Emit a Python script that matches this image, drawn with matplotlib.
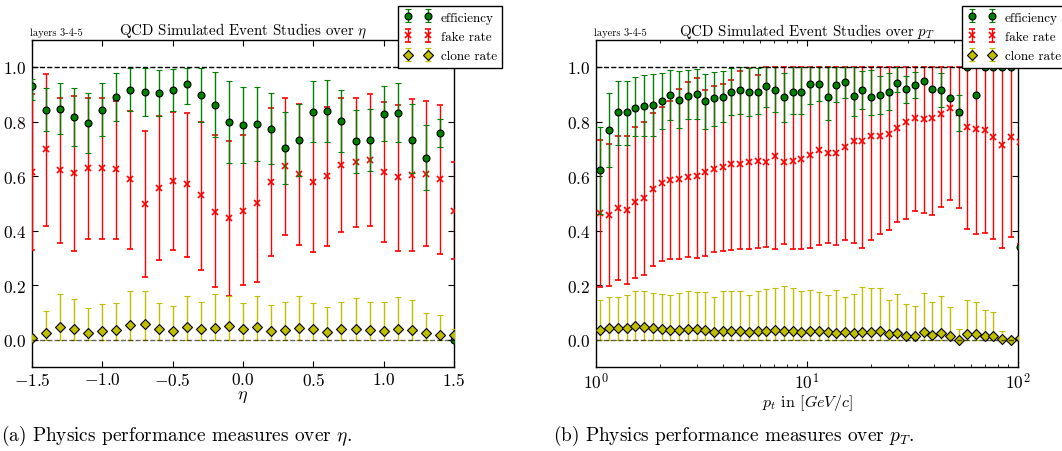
import numpy as np
import matplotlib
matplotlib.use("Agg")
import matplotlib.pyplot as plt

plt.rcParams.update({
    "font.family": "serif",
    "font.serif": ["cmr10"],
    "mathtext.fontset": "cm",
    "axes.formatter.use_mathtext": True,
    "axes.linewidth": 1.0,
})

# ---- eta binning ----
eta = [-1.5, -1.4, -1.3, -1.2, -1.1, -1.0, -0.9, -0.8, -0.7, -0.6, -0.5,
       -0.4, -0.3, -0.2, -0.1, 0.0, 0.1, 0.2, 0.3, 0.4, 0.5,
       0.6, 0.7, 0.8, 0.9, 1.0, 1.1, 1.2, 1.3, 1.4, 1.5]

eff_eta = [0.930, 0.843, 0.847, 0.816, 0.793, 0.844, 0.889, 0.916, 0.908, 0.905, 0.916,
           0.936, 0.897, 0.860, 0.799, 0.786, 0.792, 0.774, 0.702, 0.731, 0.836,
           0.840, 0.801, 0.728, 0.731, 0.829, 0.831, 0.734, 0.668, 0.759, 0.0]
eff_eta_hi = [0.956, 0.922, 0.942, 0.923, 0.903, 0.943, 0.978, 0.996, 0.996, 0.990, 0.994,
              0.997, 0.997, 0.980, 0.950, 0.925, 0.928, 0.903, 0.835, 0.865, 0.949,
              0.954, 0.916, 0.843, 0.846, 0.929, 0.940, 0.865, 0.788, 0.808, 0.0]
eff_eta_lo = [0.880, 0.765, 0.754, 0.712, 0.684, 0.748, 0.802, 0.838, 0.820, 0.819, 0.837,
              0.864, 0.798, 0.742, 0.649, 0.649, 0.655, 0.645, 0.571, 0.602, 0.725,
              0.725, 0.689, 0.613, 0.617, 0.729, 0.724, 0.610, 0.548, 0.707, 0.0]

fake_eta = [0.616, 0.700, 0.623, 0.611, 0.630, 0.630, 0.627, 0.588, 0.497, 0.555, 0.583,
            0.571, 0.531, 0.469, 0.445, 0.473, 0.501, 0.580, 0.636, 0.606, 0.577,
            0.600, 0.641, 0.651, 0.660, 0.616, 0.595, 0.605, 0.608, 0.589, 0.473]
fake_eta_hi = [0.900, 0.976, 0.887, 0.892, 0.888, 0.888, 0.877, 0.838, 0.764, 0.819, 0.836,
               0.832, 0.798, 0.750, 0.730, 0.750, 0.790, 0.849, 0.887, 0.865, 0.830,
               0.853, 0.888, 0.886, 0.900, 0.870, 0.862, 0.882, 0.875, 0.860, 0.652]
fake_eta_lo = [0.329, 0.416, 0.353, 0.326, 0.368, 0.371, 0.371, 0.333, 0.229, 0.292, 0.328,
               0.302, 0.257, 0.192, 0.160, 0.200, 0.210, 0.307, 0.385, 0.347, 0.320,
               0.344, 0.394, 0.415, 0.418, 0.357, 0.325, 0.325, 0.342, 0.315, 0.296]

clone_eta = [0.005, 0.025, 0.045, 0.039, 0.026, 0.033, 0.037, 0.053, 0.056, 0.038, 0.033,
             0.045, 0.038, 0.044, 0.050, 0.038, 0.045, 0.033, 0.034, 0.042, 0.038,
             0.028, 0.038, 0.040, 0.037, 0.033, 0.038, 0.037, 0.023, 0.018, 0.016]
clone_eta_hi = [0.020, 0.107, 0.169, 0.150, 0.115, 0.131, 0.136, 0.178, 0.177, 0.135, 0.123,
                0.162, 0.139, 0.168, 0.160, 0.133, 0.160, 0.129, 0.137, 0.160, 0.135,
                0.119, 0.139, 0.152, 0.139, 0.139, 0.155, 0.146, 0.099, 0.092, 0.038]
clone_eta_lo = [0.0] * len(eta)

# ---- pT binning: 10% wide logarithmic bins starting at 1 GeV/c ----
pt_edges = 1.1 ** np.arange(50)
pt = 0.5 * (pt_edges[:-1] + pt_edges[1:])

eff_pt = [0.622, 0.769, 0.835, 0.835, 0.849, 0.858, 0.859, 0.875, 0.898, 0.879,
          0.892, 0.902, 0.874, 0.886, 0.890, 0.908, 0.915, 0.908, 0.910, 0.929,
          0.916, 0.889, 0.908, 0.910, 0.936, 0.939, 0.891, 0.934, 0.945, 0.893,
          0.916, 0.891, 0.898, 0.909, 0.942, 0.919, 0.935, 0.947, 0.919, 0.914,
          0.887, 0.834, 1.000, 0.898, 1.000, 1.000, 1.000, 1.000, 0.340]
eff_pt_hi = [0.781, 0.904, 0.947, 0.950, 0.962, 0.971, 0.974, 0.979, 0.990, 0.984,
             0.988, 0.993, 0.975, 0.983, 0.984, 0.995, 0.999, 0.996, 0.998, 1.000,
             1.000, 0.979, 1.000, 1.000, 1.000, 1.000, 1.000, 1.000, 1.000, 1.000,
             0.987, 0.990, 0.966, 0.977, 1.000, 0.968, 0.980, 0.947, 0.919, 0.978,
             0.887, 0.897, 1.000, 0.898, 1.000, 1.000, 1.000, 1.000, 0.340]
eff_pt_lo = [0.460, 0.634, 0.713, 0.713, 0.748, 0.748, 0.748, 0.773, 0.807, 0.775,
             0.809, 0.809, 0.773, 0.785, 0.798, 0.823, 0.827, 0.820, 0.827, 0.853,
             0.835, 0.800, 0.826, 0.829, 0.865, 0.876, 0.804, 0.871, 0.888, 0.820,
             0.847, 0.824, 0.829, 0.843, 0.910, 0.868, 0.887, 0.947, 0.919, 0.852,
             0.887, 0.764, 1.000, 0.898, 1.000, 1.000, 1.000, 1.000, 0.340]

fake_pt = [0.463, 0.459, 0.483, 0.476, 0.504, 0.520, 0.553, 0.573, 0.584, 0.590,
           0.598, 0.602, 0.615, 0.627, 0.634, 0.643, 0.644, 0.651, 0.656, 0.653,
           0.673, 0.652, 0.657, 0.664, 0.678, 0.696, 0.686, 0.686, 0.705, 0.730,
           0.728, 0.747, 0.748, 0.754, 0.777, 0.797, 0.813, 0.809, 0.812, 0.829,
           0.850, 0.830, 0.780, 0.773, 0.769, 0.745, 0.714, 0.745, 0.725]
fake_pt_hi = [0.732, 0.719, 0.748, 0.748, 0.779, 0.800, 0.832, 0.852, 0.875, 0.919,
              0.944, 0.959, 0.917, 0.931, 0.938, 0.952, 0.987, 0.996, 0.970, 1.000,
              1.000, 1.000, 1.000, 1.000, 1.000, 1.000, 1.000, 1.000, 1.000, 1.000,
              1.000, 1.000, 1.000, 1.000, 1.000, 1.000, 1.000, 1.000, 1.000, 1.000,
              1.000, 1.000, 1.000, 1.000, 1.000, 1.000, 1.000, 1.000, 1.000]
fake_pt_lo = [0.194, 0.196, 0.220, 0.203, 0.227, 0.238, 0.269, 0.287, 0.296, 0.295,
              0.304, 0.298, 0.307, 0.320, 0.325, 0.329, 0.331, 0.331, 0.336, 0.339,
              0.331, 0.350, 0.331, 0.331, 0.336, 0.349, 0.356, 0.348, 0.365, 0.356,
              0.338, 0.364, 0.389, 0.402, 0.433, 0.443, 0.471, 0.463, 0.458, 0.485,
              0.513, 0.484, 0.406, 0.388, 0.392, 0.368, 0.336, 0.378, 0.351]

clone_pt = [0.037, 0.043, 0.044, 0.044, 0.049, 0.045, 0.043, 0.039, 0.036, 0.037,
            0.039, 0.039, 0.037, 0.028, 0.033, 0.033, 0.033, 0.029, 0.033, 0.033,
            0.034, 0.033, 0.033, 0.029, 0.031, 0.031, 0.029, 0.025, 0.027, 0.025,
            0.027, 0.029, 0.032, 0.021, 0.026, 0.015, 0.012, 0.027, 0.018, 0.026,
            0.014, 0.000, 0.022, 0.022, 0.014, 0.012, 0.002, 0.000, 0.005]
clone_pt_hi = [0.145, 0.156, 0.156, 0.163, 0.179, 0.180, 0.172, 0.168, 0.163, 0.172,
               0.177, 0.175, 0.174, 0.156, 0.177, 0.177, 0.177, 0.164, 0.178, 0.187,
               0.191, 0.196, 0.189, 0.177, 0.183, 0.175, 0.163, 0.183, 0.156, 0.166,
               0.193, 0.188, 0.188, 0.144, 0.169, 0.130, 0.123, 0.171, 0.137, 0.161,
               0.120, 0.040, 0.147, 0.137, 0.108, 0.100, 0.033, 0.000, 0.005]
clone_pt_lo = [0.0] * len(clone_pt)


def asym(val, lo, hi):
    v = np.asarray(val)
    return [v - np.asarray(lo), np.asarray(hi) - v]


def draw_panel(ax, x, eff, eff_lo, eff_hi, fake, fake_lo, fake_hi,
               clone, clone_lo, clone_hi, title):
    common = dict(capsize=2.2, elinewidth=1.0, capthick=1.0, linestyle="none")
    ax.errorbar(x, fake, yerr=asym(fake, fake_lo, fake_hi), fmt="x", color="r",
                ecolor="r", ms=4.5, mew=1.2, label="fake rate", zorder=3, **common)
    ax.errorbar(x, eff, yerr=asym(eff, eff_lo, eff_hi), fmt="o", color="g",
                mfc="g", mec="k", ecolor="g", ms=5.0, mew=0.8,
                label="efficiency", zorder=4, **common)
    ax.errorbar(x, clone, yerr=asym(clone, clone_lo, clone_hi), fmt="D", color="y",
                mfc="y", mec="k", ecolor="y", ms=5.0, mew=0.8,
                label="clone rate", zorder=4, **common)
    ax.axhline(1.0, color="k", ls="--", lw=1.0, zorder=5)
    ax.axhline(0.0, color="k", ls="--", lw=1.0, alpha=0.6, zorder=5)
    ax.set_ylim(-0.1, 1.1)
    ax.set_yticks([0.0, 0.2, 0.4, 0.6, 0.8, 1.0])
    ax.tick_params(which="both", direction="in", top=True, right=True,
                   labelsize=12.5, pad=4)
    ax.tick_params(axis="x", which="both", pad=3)
    ax.tick_params(which="major", length=4)
    ax.tick_params(which="minor", length=2)
    ax.set_title(title, fontsize=10.8, pad=3)
    ax.text(-0.005, 1.008, "layers 3-4-5", transform=ax.transAxes,
            fontsize=7.5, ha="left", va="bottom")
    handles, labels = ax.get_legend_handles_labels()
    order = [labels.index(n) for n in ("efficiency", "fake rate", "clone rate")]
    ax.legend([handles[i] for i in order], [labels[i] for i in order],
              loc="upper right", bbox_to_anchor=(1.114, 1.103), numpoints=2,
              fontsize=9.5, fancybox=False, edgecolor="k", framealpha=1.0,
              borderaxespad=0.0, labelspacing=0.55, handletextpad=0.7,
              handlelength=2.1)


fig = plt.figure(figsize=(10.62, 4.52), dpi=100)
ax1 = fig.add_axes([32 / 1062, 84 / 452, 422 / 1062, 327.3 / 452])
ax2 = fig.add_axes([596 / 1062, 84 / 452, 422 / 1062, 327.3 / 452])

draw_panel(ax1, eta, eff_eta, eff_eta_lo, eff_eta_hi, fake_eta, fake_eta_lo,
           fake_eta_hi, clone_eta, clone_eta_lo, clone_eta_hi,
           r"QCD Simulated Event Studies over $\eta$")
ax1.set_xlim(-1.5, 1.5)
ax1.set_xticks([-1.5, -1.0, -0.5, 0.0, 0.5, 1.0, 1.5])
ax1.set_xlabel(r"$\eta$", fontsize=13, labelpad=0)

draw_panel(ax2, pt, eff_pt, eff_pt_lo, eff_pt_hi, fake_pt, fake_pt_lo,
           fake_pt_hi, clone_pt, clone_pt_lo, clone_pt_hi,
           r"QCD Simulated Event Studies over $p_T$")
ax2.set_xscale("log")
ax2.set_xlim(1, 100)
ax2.set_xlabel(r"$p_t$ in $[GeV/c]$", fontsize=11.5, labelpad=0)

fig.text(1 / 1062, 1 - 436 / 452, r"(a) Physics performance measures over $\eta$.",
         ha="left", va="center", fontsize=13.9)
fig.text(734 / 1062, 1 - 436 / 452, r"(b) Physics performance measures over $p_T$.",
         ha="center", va="center", fontsize=13.9)

fig.savefig("out.png", dpi=100)
